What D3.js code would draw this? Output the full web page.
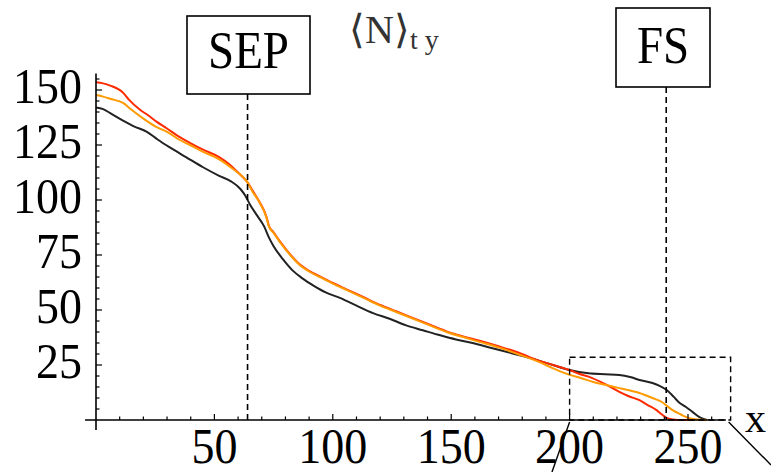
<!DOCTYPE html>
<html><head><meta charset="utf-8">
<script src="https://cdn.jsdelivr.net/npm/d3@7"></script>
<style>html,body{margin:0;padding:0;background:#fff;}svg{display:block;}</style>
</head><body>
<script>
// ---- data ----
const blackX = [0,3,6,11.6,16,21.5,26,31,38,45,52,57,61,63,65,68,71,73,75,79,83,87,92,97,103,110,117,124,131,138,145,152,159,167,175,181,187,193,200,208,215,221,226,229.5,235,238,241,244,246,249,252,255,258];
const blackY = [142,141.3,139.5,136,133.5,131,127.5,124,119.5,115,111,108.5,105,102,98,93,88,83,79,73,68,64.5,61,58,55.5,52,48.6,46,43,40.8,38.6,36.6,35,32.7,30.5,28.8,27,25,22.7,21.2,20.8,20.5,19.4,18.2,16.8,15.5,13.6,10.5,8.2,6,3.6,1.2,0];
const orangeX = [0,3,6,11.6,15,20,25,30,35,39.6,45,52,58,62,64,66,69,72,73,75,77.6,82,86,90,94.5,100,106,113,120,127,134,141,148,155,162,170,178,187,193,200,205,210,215,221,225,229.5,235,239,241,243.5,247,250,253,258];
const orangeY = [147.7,147,146,144,141,137,133.5,131,127.5,125,122,118.5,114,110.5,108,104,99,92,88,85,81,75,70.5,67.5,65,62,59,55.5,52,49,46,43,40,37.7,35.5,33,30,26.4,23.5,20.5,19,17.3,16,14.5,13.5,12.3,10,8.2,6.5,4.5,2.5,1,0.3,0];
const redX = [0,3,6,11.6,14,18.6,22,25.7,30,34,39.6,45,52,56,60,64,66,69,72,73,75,77.6,82,86,90,94.5,100,106,113,120,127,134,141,148,155,162,170,178,187,193,200,204,208,215,221,225,229.5,233,236.7,239,241,243,246,253];
const redY = [153.5,153,152,148.6,145.5,141,138.5,135.5,132.5,129.5,126,123,119.5,116.5,112.5,108,104.5,99.2,92.3,88.3,85.3,81.3,75.3,70.8,67.8,65.3,62.3,59.3,55.8,52.3,49.3,46.3,43.3,40.3,38,36,33.5,30.8,27,25,22.7,21,19.7,16.3,12.8,10.8,9,6.8,4.5,2.5,1,0.3,0,0];
const xTickLabels = [50,100,150,200,250];
const yTickLabels = [25,50,75,100,125,150];
const markers = [{label:"SEP", x:64}, {label:"FS", x:240.8}];
const zoomBox = {x0:200, x1:268, y0:0, y1:28.5};

// ---- layout ----
const W = 771, H = 472;
const x = d3.scaleLinear().domain([0,250]).range([96,688]);
const y = d3.scaleLinear().domain([0,150]).range([420,90]);
const svg = d3.select("body").append("svg").attr("width",W).attr("height",H);
svg.append("rect").attr("width",W).attr("height",H).attr("fill","#fff");
const serif = "'Liberation Serif','Times New Roman',serif";

function txt(px, py, s, size, anchor, sy){
  return svg.append("text")
    .attr("transform",`translate(${px},${py}) scale(1,${sy||1})`)
    .attr("text-anchor",anchor||"start")
    .attr("font-family",serif).attr("font-size",size).attr("fill","#000").text(s);
}

// curves
const line = d3.line().x(d=>x(d[0])).y(d=>y(d[1])).curve(d3.curveMonotoneX);
const series = [
  {xs:blackX, ys:blackY, c:"#222"},
  {xs:redX, ys:redY, c:"#ff2a00"},
  {xs:orangeX, ys:orangeY, c:"#ff9a00"}
];
series.forEach(s=>{
  svg.append("path").datum(s.xs.map((v,i)=>[v,s.ys[i]]))
    .attr("d",line).attr("fill","none").attr("stroke",s.c).attr("stroke-width",2);
});

// axes
const axG = svg.append("g").attr("stroke","#000").attr("stroke-width",1.6);
axG.append("line").attr("x1",85).attr("x2",x(266)).attr("y1",y(0)).attr("y2",y(0));
axG.append("line").attr("x1",x(0)).attr("x2",x(0)).attr("y1",430).attr("y2",y(157.5));
const tg = svg.append("g").attr("stroke","#000").attr("stroke-width",1.2);
d3.range(10,270,10).forEach(v=>{
  const L = v%50===0 ? 6 : 3.5;
  tg.append("line").attr("x1",x(v)).attr("x2",x(v)).attr("y1",y(0)).attr("y2",y(0)-L);
});
d3.range(5,160,5).forEach(v=>{
  const L = v%25===0 ? 6 : 3.5;
  tg.append("line").attr("x1",x(0)).attr("x2",x(0)+L).attr("y1",y(v)).attr("y2",y(v));
});
xTickLabels.forEach(d=>txt(x(d), 463, d, 46, "middle", 1.08));
yTickLabels.forEach(d=>txt(82, y(d)+13, d, 46, "end", 1.12));

// axis label x
txt(745, 432, "x", 42, "start", 0.95);

// title
const t = svg.append("text").attr("x",349).attr("y",43).attr("font-family",serif)
  .attr("fill","#333").attr("font-size",40);
t.append("tspan").text("\u27E8N\u27E9");
t.append("tspan").attr("font-size",28).attr("dy",6).text("t y");

// markers (dashed lines + boxes)
const boxes = [{x0:187,x1:310,y0:16,y1:94,fs:47,by:68},{x0:616,x1:710,y0:8,y1:87,fs:47,by:63}];
markers.forEach((m,i)=>{
  const b = boxes[i];
  svg.append("line").attr("x1",x(m.x)).attr("x2",x(m.x)).attr("y1",b.y1).attr("y2",y(0))
    .attr("stroke","#000").attr("stroke-width",1.6).attr("stroke-dasharray","6,4");
  svg.append("rect").attr("x",b.x0).attr("y",b.y0).attr("width",b.x1-b.x0).attr("height",b.y1-b.y0)
    .attr("fill","#fff").attr("stroke","#000").attr("stroke-width",1.6);
  txt((b.x0+b.x1)/2, b.by, m.label, b.fs, "middle", 1.12);
});

// zoom box
svg.append("rect").attr("x",x(zoomBox.x0)).attr("y",y(zoomBox.y1))
  .attr("width",x(zoomBox.x1)-x(zoomBox.x0)).attr("height",y(zoomBox.y0)-y(zoomBox.y1))
  .attr("fill","none").attr("stroke","#000").attr("stroke-width",1.4).attr("stroke-dasharray","6,4");
svg.append("line").attr("x1",x(zoomBox.x0)).attr("y1",y(0)+2).attr("x2",552).attr("y2",H)
  .attr("stroke","#000").attr("stroke-width",1.4);
svg.append("line").attr("x1",x(zoomBox.x1)-2).attr("y1",y(0)+2).attr("x2",W).attr("y2",465)
  .attr("stroke","#000").attr("stroke-width",1.4);
</script>
</body></html>
